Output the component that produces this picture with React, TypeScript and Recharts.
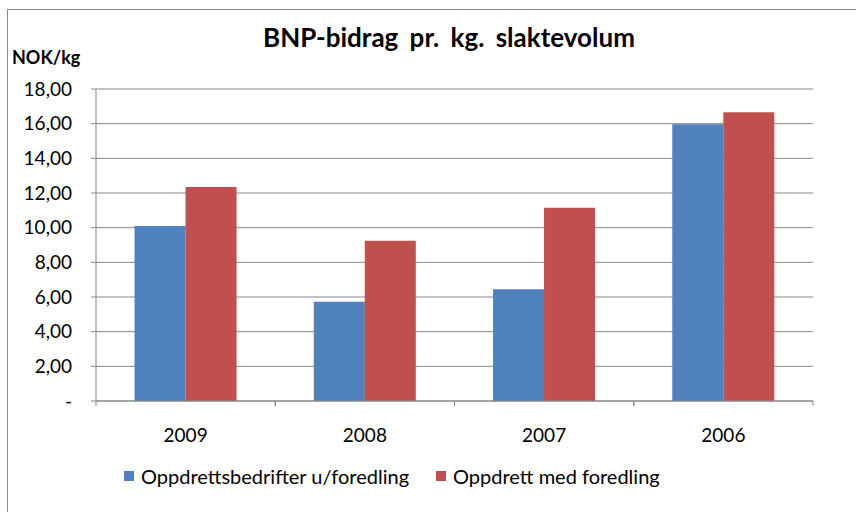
import React from "react";
import { BarChart, Bar, XAxis, YAxis, CartesianGrid } from "recharts";

const years = ["2009", "2008", "2007", "2006"];
const utenForedling = [10.1, 5.73, 6.44, 15.96];
const medForedling = [12.35, 9.25, 11.15, 16.66];
const yTicks = [0, 2, 4, 6, 8, 10, 12, 14, 16, 18];

const BLUE = "#4F81BD";
const RED = "#C0504D";
const GRID = "#868686";
const FONT = "Lato, 'Noto Sans', sans-serif";

const data = years.map((year, i) => ({
  year,
  uten: utenForedling[i],
  med: medForedling[i],
}));

const fmtY = (v: number) => (v === 0 ? "-" : v.toFixed(2).replace(".", ","));

// category label plus tick marks on the category boundaries
function YearTick(props: any) {
  const { x, y, payload } = props;
  const half = payload.offset || 0;
  return (
    <g>
      <line x1={x - half} y1={y} x2={x - half} y2={y + 5} stroke={GRID} />
      <line x1={x + half} y1={y} x2={x + half} y2={y + 5} stroke={GRID} />
      <text x={x} y={y + 41} textAnchor="middle" fontSize={19} fontFamily={FONT} fill="#000">
        {payload.value}
      </text>
    </g>
  );
}

export default function App() {
  return (
    <div style={{ position: "absolute", left: 0, top: 0, width: 856, height: 512, overflow: "hidden", background: "#fff", fontFamily: FONT }}>
      <div style={{ position: "absolute", left: 7, top: 9, width: 900, height: 600, border: "1.5px solid #8c8c8c", boxSizing: "border-box" }} />
      <div style={{ position: "absolute", left: 0, width: 898, top: 21, textAlign: "center", fontWeight: 700, fontSize: 26, wordSpacing: 5, color: "#000" }}>
        BNP-bidrag pr. kg. slaktevolum
      </div>
      <div style={{ position: "absolute", left: 12, top: 46, fontWeight: 700, fontSize: 18, color: "#000" }}>NOK/kg</div>
      <div style={{ position: "absolute", left: 0, top: 0 }}>
        <BarChart
          width={856}
          height={512}
          data={data}
          margin={{ top: 89, right: 43, left: 0, bottom: 71 }}
          barCategoryGap="21.5%"
          barGap={0}
        >
          <CartesianGrid vertical={false} stroke={GRID} strokeWidth={1} />
          <XAxis
            dataKey="year"
            height={40}
            stroke={GRID}
            tickLine={false}
            tickSize={0}
            tickMargin={0}
            interval={0}
            tick={<YearTick />}
          />
          <YAxis
            width={96}
            domain={[0, 18]}
            ticks={yTicks}
            tickFormatter={fmtY}
            stroke={GRID}
            tickSize={5}
            tickMargin={19}
            tick={{ fontSize: 19, fill: "#000", fontFamily: FONT }}
            interval={0}
          />
          <Bar dataKey="uten" fill={BLUE} isAnimationActive={false} />
          <Bar dataKey="med" fill={RED} isAnimationActive={false} />
        </BarChart>
      </div>
      <div style={{ position: "absolute", left: 124, top: 464, display: "flex", alignItems: "center", fontSize: 20, color: "#000" }}>
        <span style={{ width: 10, height: 10, background: BLUE, marginRight: 7 }} />
        <span>Oppdrettsbedrifter u/foredling</span>
        <span style={{ width: 10, height: 10, background: RED, marginLeft: 27, marginRight: 7 }} />
        <span>Oppdrett med foredling</span>
      </div>
    </div>
  );
}
